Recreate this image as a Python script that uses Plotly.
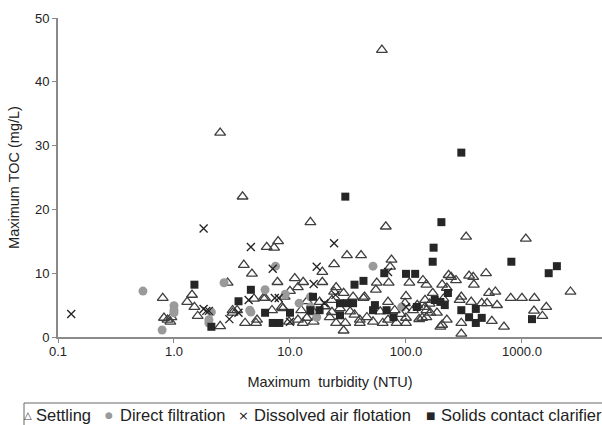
import plotly.graph_objects as go

# ---- data ----
settling_x = [0.8, 0.82, 0.93, 0.95, 0.88, 1.43, 1.3, 1.5, 1.6, 2.5, 2.9, 3.2, 3.5, 3.2, 2.5, 3.9, 4.0, 4.7, 4.9, 4.1, 5.1, 5.2, 5.9,
              6.3, 7.3, 7.9, 15, 67, 62,
              7.8, 11, 13, 11.7, 10, 19, 25, 24, 29, 35, 44, 19, 24, 31, 41, 75, 73,
              7.0, 8.5, 9.8, 11.7, 12.9, 14, 16, 23, 23, 29, 30, 40, 40, 46, 52, 63, 70, 83, 100, 100, 130, 43, 56, 55, 71, 107, 140, 150, 100, 146, 146, 70, 98, 150, 22, 25, 16, 6.1, 8.7, 12.5,
              27, 33, 36, 18, 20, 14, 9, 60, 80, 90, 115, 125, 160,
              330, 1080, 490, 350, 380, 385, 245, 270, 233, 205, 225, 520, 590, 800, 1000, 1280, 2620, 300, 365, 450, 500, 610, 1270, 1620, 1500, 550, 700, 300, 300, 150, 162, 185, 205, 225, 138, 198, 290, 170, 210]
settling_y = [6.1, 3.0, 2.4, 3.1, 2.7, 6.6, 5.5, 4.7, 3.3, 1.7, 8.5, 3.8, 4.2, 4.2, 32, 22, 11.3, 9.9, 6.0, 2.2, 2.2, 2.7, 6.1,
              14.1, 14.0, 15, 18, 17.3, 45,
              8.6, 9.2, 8.6, 7.8, 7.2, 8.6, 7.8, 7.1, 6.9, 6.3, 6.3, 10.2, 11.4, 12.8, 12.8, 12.1, 11.0,
              4.2, 4.7, 2.4, 2.7, 2.2, 3.0, 3.9, 5.8, 3.9, 1.0, 2.2, 2.7, 2.2, 3.1, 2.4, 2.2, 2.7, 2.2, 3.0, 2.2, 2.8, 6.1, 8.5, 7.4, 8.5, 8.5, 8.9, 8.2, 6.4, 5.8, 4.7, 5.5, 5.3, 3.1, 3.1, 2.2, 2.4, 6.1, 4.5, 4.2,
              4.5, 4.0, 3.5, 5.5, 4.8, 5.6, 6.3, 4.0, 4.2, 3.6, 4.2, 5.0, 5.2,
              15.7, 15.4, 10.0, 9.6, 9.4, 8.2, 9.4, 8.9, 9.7, 8.2, 7.7, 6.9, 7.1, 6.1, 6.1, 6.1, 7.1, 6.3, 5.5, 5.3, 5.3, 5.0, 4.1, 4.7, 3.3, 2.5, 1.6, 2.2, 0.5, 4.2, 3.8, 3.8, 1.9, 2.7, 3.0, 1.6, 5.8, 6.9, 6.0]

direct_x = [0.54, 0.79, 1.0, 1.0, 1.0, 2.0, 2.0, 2.1, 2.7, 4.5, 6.1, 7.5, 4.6, 9.1, 12, 15, 17, 15, 52, 92]
direct_y = [7.2, 1.1, 4.9, 4.2, 3.8, 2.7, 2.2, 3.9, 8.5, 4.2, 7.4, 11.1, 3.9, 6.7, 5.3, 6.3, 3.1, 4.7, 11.1, 4.7]

daf_x = [0.13, 1.8, 1.8, 1.9, 2.0, 3.0, 3.6, 4.4, 4.6, 24, 7.1, 17, 16, 7.4, 8.0, 10, 19.8, 24.7, 70, 100]
daf_y = [3.6, 17, 4.4, 4.1, 4.1, 2.8, 3.8, 5.8, 14.1, 14.7, 10.7, 11, 8.3, 6.1, 6.1, 2.4, 5.3, 6.6, 10.2, 4.7]

scc_x = [1.5, 4.6, 3.6, 2.1, 30, 6.1, 7.1, 8.1, 10, 15.8, 15, 18, 27, 27, 31, 35, 36, 43, 65, 100, 120, 54, 68, 78, 124,
         300, 202, 173, 170, 810, 2000, 1700, 1220, 177, 198, 216, 230, 300, 350, 400, 400, 450, 52]
scc_y = [8.2, 7.4, 5.6, 1.6, 22, 3.8, 2.2, 2.2, 3.8, 6.3, 4.2, 4.2, 3.4, 5.3, 5.3, 5.3, 8.2, 8.8, 10, 9.9, 9.9, 5.0, 4.2, 3.1, 4.7,
         28.9, 18, 14, 11.8, 11.8, 11.1, 10, 2.8, 5.8, 5.5, 5.0, 6.9, 4.2, 3.1, 4.4, 2.2, 3.0, 4.2]

x_tickvals = [0.1, 1, 10, 100, 1000]
x_ticktext = ["0.1", "1.0", "10.0", "100.0", "1000.0"]
y_tickvals = [0, 10, 20, 30, 40, 50]

series_names = ["Settling", "Direct filtration", "Dissolved air flotation", "Solids contact clarifier"]
legend_glyphs = ["\u25b3", "\u25cf", "\u00d7", "\u25a0"]

FONT = "Liberation Sans, Arial, sans-serif"
W, H = 602, 425
ML, MR, MT, MB = 58, 0, 18, 88
PW, PH = W - ML - MR, H - MT - MB


def px_x(p):
    return (p - ML) / PW


def px_y(p):
    return (H - MB - p) / PH


fig = go.Figure()
fig.add_trace(go.Scatter(x=settling_x, y=settling_y, mode="markers", name=series_names[0],
                         marker=dict(symbol="triangle-up-open", size=9.5, color="#3f3f3f", line=dict(width=1.3))))
fig.add_trace(go.Scatter(x=direct_x, y=direct_y, mode="markers", name=series_names[1],
                         marker=dict(symbol="circle", size=9, color="#9a9a9a")))
fig.add_trace(go.Scatter(x=daf_x, y=daf_y, mode="markers", name=series_names[2],
                         marker=dict(symbol="x-thin", size=8, color="#222222", line=dict(width=1.3, color="#222222"))))
fig.add_trace(go.Scatter(x=scc_x, y=scc_y, mode="markers", name=series_names[3],
                         marker=dict(symbol="square", size=8, color="#262626")))

# Legend drawn as a bordered strip of text items (as in the reference)
glyph_x = [28, 109, 243, 430]
text_x = [34, 118, 252, 439]
glyph_color = ["#444444", "#9a9a9a", "#222222", "#262626"]
glyph_size = [10, 9, 13, 10]
ly = px_y(415)
annotations = []
for i in range(4):
    annotations.append(dict(xref="paper", yref="paper", x=px_x(glyph_x[i]), y=ly, xanchor="center", yanchor="middle",
                            text=legend_glyphs[i], showarrow=False,
                            font=dict(family="DejaVu Sans", size=glyph_size[i], color=glyph_color[i])))
    annotations.append(dict(xref="paper", yref="paper", x=px_x(text_x[i]), y=ly, xanchor="left", yanchor="middle",
                            text=series_names[i], showarrow=False,
                            font=dict(family=FONT, size=16.5, color="#222")))

fig.update_layout(
    width=W, height=H,
    margin=dict(l=ML, r=MR, t=MT, b=MB, autoexpand=False),
    paper_bgcolor="white", plot_bgcolor="white",
    font=dict(family=FONT, size=13, color="#222"),
    showlegend=False,
    annotations=annotations,
    shapes=[dict(type="rect", xref="paper", yref="paper", x0=px_x(24), x1=px_x(606), y0=px_y(427), y1=px_y(403),
                 line=dict(color="#666", width=1), fillcolor="rgba(0,0,0,0)")],
)
fig.update_xaxes(type="log", range=[-1, 3.69], tickvals=x_tickvals, ticktext=x_ticktext, automargin=False,
                 showline=True, linecolor="#8a8a8a", linewidth=2, showgrid=False, zeroline=False,
                 ticks="outside", ticklen=4, tickcolor="#8a8a8a", tickfont=dict(size=13, color="#222"),
                 ticklabelstandoff=-3,
                 title=dict(text="Maximum  turbidity (NTU)", font=dict(size=14.5, color="#222"), standoff=19))
fig.update_yaxes(range=[0, 50], tickvals=y_tickvals, automargin=False,
                 showline=True, linecolor="#8a8a8a", linewidth=2, showgrid=False, zeroline=False,
                 ticks="outside", ticklen=4, tickcolor="#8a8a8a", tickfont=dict(size=13, color="#222"),
                 title=dict(text="Maximum TOC (mg/L)", font=dict(size=14.5, color="#222"), standoff=12))

fig.write_html("out.html", config={"displayModeBar": False},
               post_script="document.body.style.margin='0';document.body.style.padding='0';")
